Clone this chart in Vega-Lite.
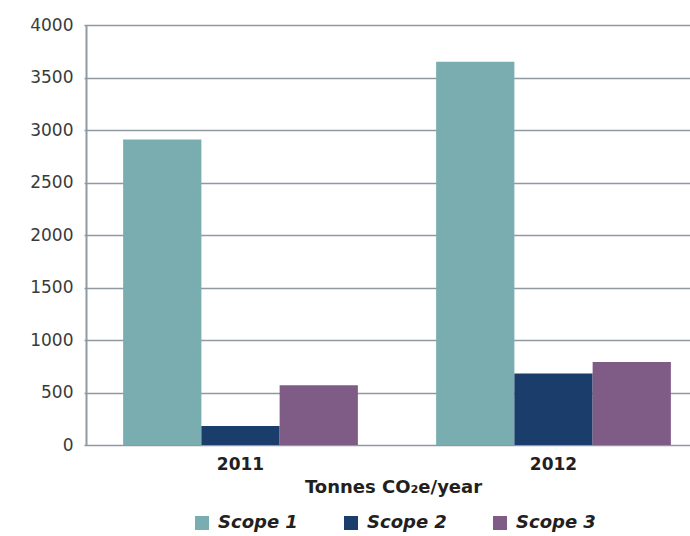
{
  "$schema": "https://vega.github.io/schema/vega-lite/v6.json",
  "width": 604,
  "height": 420,
  "autosize": {"type": "none"},
  "padding": {"left": 86, "top": 25, "right": 0, "bottom": 91},
  "background": "white",
  "config": {
    "font": "DejaVu Sans",
    "view": {"stroke": null}
  },
  "data": {
    "values": [
      {"year": "2011", "scope": "Scope 1", "tonnes": 2910},
      {"year": "2011", "scope": "Scope 2", "tonnes": 180},
      {"year": "2011", "scope": "Scope 3", "tonnes": 570},
      {"year": "2012", "scope": "Scope 1", "tonnes": 3650},
      {"year": "2012", "scope": "Scope 2", "tonnes": 680},
      {"year": "2012", "scope": "Scope 3", "tonnes": 790}
    ]
  },
  "mark": {"type": "bar"},
  "encoding": {
    "x": {
      "field": "year",
      "type": "nominal",
      "scale": {"range": [-2, 624], "paddingInner": 0.25, "paddingOuter": 0.125},
      "axis": {
        "title": "Tonnes CO₂e/year",
        "titleFont": "DejaVu Sans",
        "titleFontSize": 18,
        "titleFontWeight": "bold",
        "titleColor": "#231f20",
        "titleX": 307,
        "titleY": 42,
        "titleBaseline": "middle",
        "labelAngle": 0,
        "labelFont": "DejaVu Sans",
        "labelFontSize": 17,
        "labelFontWeight": "bold",
        "labelColor": "#231f20",
        "labelPadding": 11,
        "ticks": false,
        "domain": false,
        "grid": false
      }
    },
    "xOffset": {"field": "scope", "type": "nominal", "scale": {"paddingInner": 0, "paddingOuter": 0}},
    "y": {
      "field": "tonnes",
      "type": "quantitative",
      "scale": {"domain": [0, 4000], "nice": false},
      "axis": {
        "title": null,
        "format": "d",
        "values": [0, 500, 1000, 1500, 2000, 2500, 3000, 3500, 4000],
        "labelFont": "DejaVu Sans",
        "labelFontSize": 17,
        "labelColor": "#3a3a3a",
        "labelPadding": 13,
        "ticks": false,
        "domainColor": "#8e99a2",
        "domainWidth": 2,
        "gridColor": "#8e99a2",
        "gridWidth": 1.6,
        "gridOpacity": 1
      }
    },
    "color": {
      "field": "scope",
      "type": "nominal",
      "scale": {
        "domain": ["Scope 1", "Scope 2", "Scope 3"],
        "range": ["#79adb0", "#1b3d6c", "#7f5c85"]
      },
      "legend": {
        "title": null,
        "orient": "none",
        "direction": "horizontal",
        "legendX": 107,
        "legendY": 489,
        "symbolType": "square",
        "symbolSize": 196,
        "symbolStrokeWidth": 0,
        "symbolOpacity": 1,
        "labelFont": "DejaVu Sans",
        "labelFontSize": 18,
        "labelFontStyle": "italic",
        "labelFontWeight": "bold",
        "labelColor": "#231f20",
        "labelOffset": 7,
        "columnPadding": 44
      }
    }
  }
}
